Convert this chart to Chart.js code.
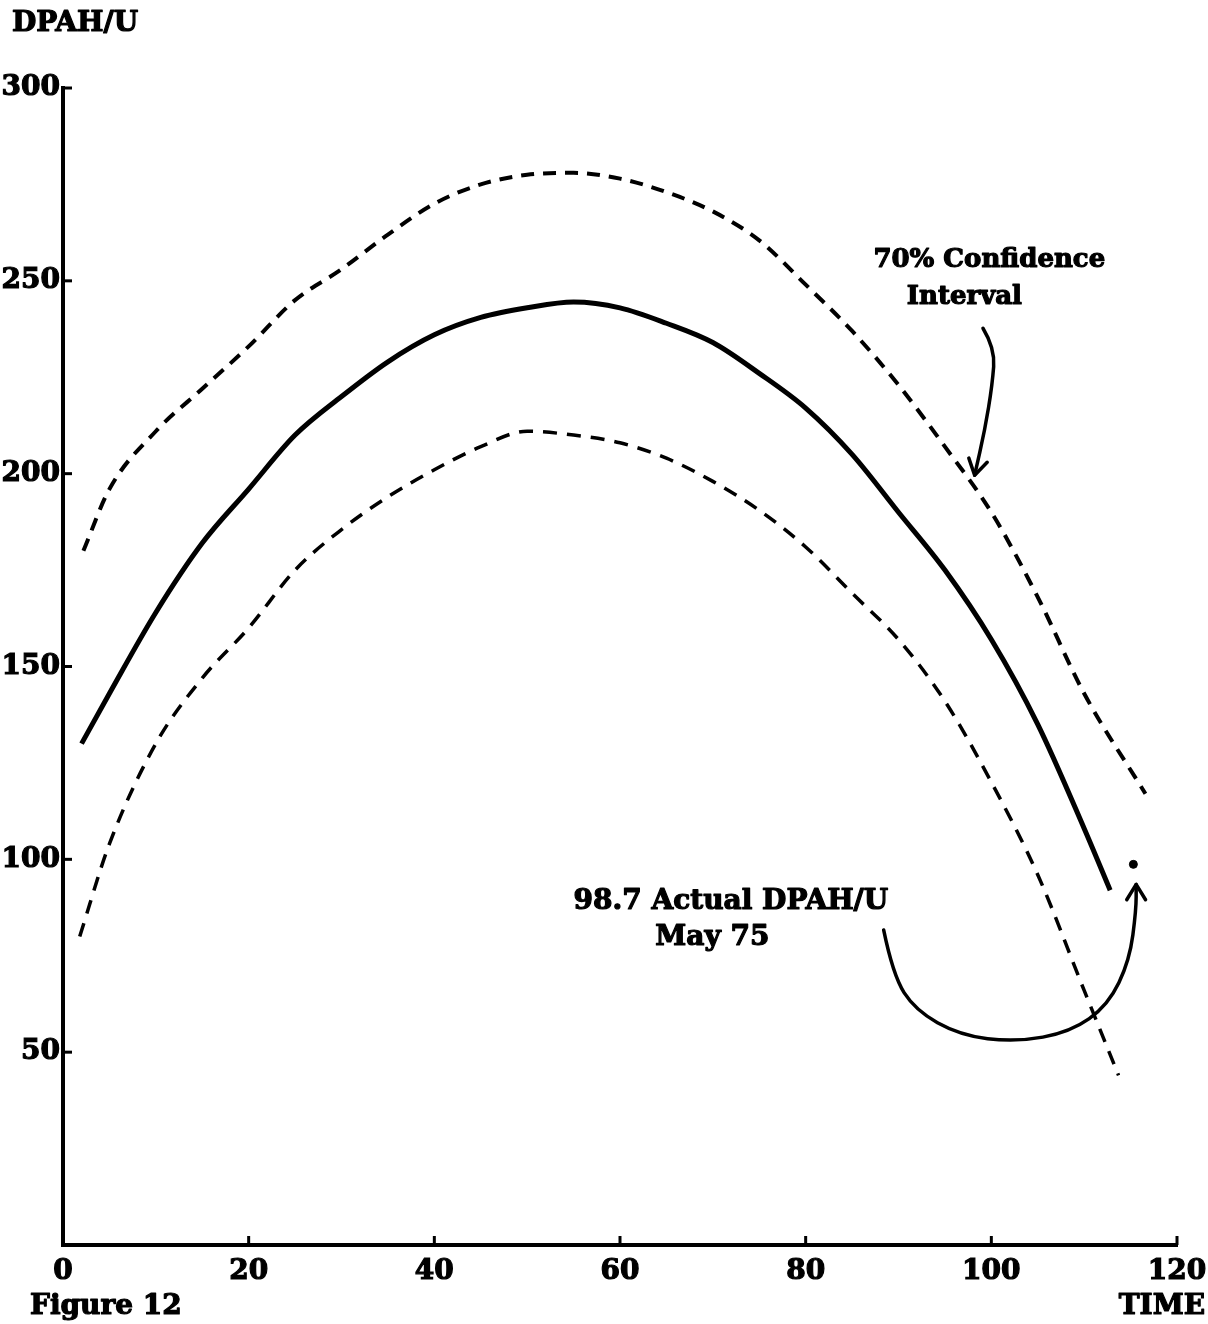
<!DOCTYPE html>
<html>
<head>
<meta charset="utf-8">
<title>DPAH/U over time</title>
<script src="https://cdn.jsdelivr.net/npm/chart.js@4.4.1/dist/chart.umd.min.js"></script>
<style>
  html, body { margin: 0; padding: 0; background: #fff; }
  #wrap { width: 1208px; height: 1324px; }
</style>
</head>
<body>
<div id="wrap"><canvas id="myChart" width="1208" height="1324"></canvas></div>
<script>
    // fitted curve and the 70% confidence band, DPAH/U by time
    const fitTime = [2, 5, 10, 15, 20, 25, 30, 35, 40, 45, 50, 55, 60, 65, 70, 75, 80, 85, 90, 95, 100, 105, 110, 112.8];
    const fitValues = [130, 143, 164, 182, 196, 210, 220, 229, 236, 240.5, 243, 244.5, 243, 239, 234, 226, 217, 205, 190, 175, 157, 135, 108, 92];

    const upperTime = [2.2, 5, 10, 15, 20, 25, 30, 35, 40, 45, 50, 55, 60, 65, 70, 75, 80, 85, 90, 95, 100, 105, 110, 116.6];
    const upperValues = [180, 196, 211, 222, 233, 245, 253, 262, 270, 275, 277.5, 278, 276.5, 273, 268, 260.5, 249, 237, 223, 207, 190, 168, 143, 117];

    const lowerTime = [1.8, 5, 10, 15, 20, 25, 30, 35, 40, 45, 50, 55, 60, 65, 70, 75, 80, 85, 90, 95, 100, 105, 110, 113.7];
    const lowerValues = [80, 104, 130, 147, 160, 175, 185.5, 194, 201, 207, 211, 210, 208, 204, 198, 190.5, 181, 169, 157, 141, 120, 96, 66, 44];

    // actual value for May 75
    const actualTime = [115.3];
    const actualValues = [98.7];

    const xTicks = [0, 20, 40, 60, 80, 100, 120];
    const yTicks = [0, 50, 100, 150, 200, 250, 300];

    const FAMILY = '"DejaVu Serif"';
    const toPoints = (xs, ys) => xs.map((x, i) => ({ x: x, y: ys[i] }));

    // heavy typewriter-ish text: fill plus a thin outline
    function heavyText(c, str, x, y) {
        c.fillText(str, x, y);
        c.strokeText(str, x, y);
    }

    // small ticks pointing into the plot, plus the hand-drawn notes and arrows
    const paperPlugin = {
        id: 'paper',
        afterDraw(chart) {
            const c = chart.ctx;
            const xs = chart.scales.x, ys = chart.scales.y;
            const area = chart.chartArea;
            const px = (t) => xs.getPixelForValue(t);
            const py = (v) => ys.getPixelForValue(v);

            c.save();
            c.strokeStyle = '#000';
            c.fillStyle = '#000';
            c.lineWidth = 3;
            yTicks.filter(v => v > 0).forEach(v => {
                c.beginPath();
                c.moveTo(area.left, py(v));
                c.lineTo(area.left + 9, py(v));
                c.stroke();
            });
            xTicks.filter(v => v > 0).forEach(v => {
                c.beginPath();
                c.moveTo(px(v), area.bottom);
                c.lineTo(px(v), area.bottom - 9);
                c.stroke();
            });

            // labels
            c.lineWidth = 1.2;
            c.lineJoin = 'round';
            c.font = 'bold 28px ' + FAMILY;
            c.textBaseline = 'middle';
            c.textAlign = 'left';
            heavyText(c, 'DPAH/U', 12, 24);
            heavyText(c, 'Figure 12', 30, 1307);
            c.textAlign = 'right';
            heavyText(c, 'TIME', 1205, 1307);
            c.textAlign = 'left';
            c.font = 'bold 26px ' + FAMILY;
            heavyText(c, '70% Confidence', px(87.3), py(255.4));
            heavyText(c, 'Interval', px(90.9), py(245.8));
            c.font = 'bold 28px ' + FAMILY;
            heavyText(c, '98.7 Actual DPAH/U', px(55.0), py(88.9));
            heavyText(c, 'May 75', px(63.8), py(79.6));

            // arrows, smoothed through a few guide points
            const arrow = (pts) => {
                const p = pts.map(d => [px(d[0]), py(d[1])]);
                c.lineWidth = 3.5;
                c.lineCap = 'round';
                c.beginPath();
                c.moveTo(p[0][0], p[0][1]);
                for (let i = 1; i < p.length - 1; i++) {
                    const mx = (p[i][0] + p[i + 1][0]) / 2, my = (p[i][1] + p[i + 1][1]) / 2;
                    c.quadraticCurveTo(p[i][0], p[i][1], mx, my);
                }
                const tip = p[p.length - 1], prev = p[p.length - 2];
                c.lineTo(tip[0], tip[1]);
                c.stroke();
                const a = Math.atan2(tip[1] - prev[1], tip[0] - prev[0]);
                c.beginPath();
                c.moveTo(tip[0] - 18 * Math.cos(a - 0.55), tip[1] - 18 * Math.sin(a - 0.55));
                c.lineTo(tip[0], tip[1]);
                c.lineTo(tip[0] - 18 * Math.cos(a + 0.55), tip[1] - 18 * Math.sin(a + 0.55));
                c.stroke();
            };
            arrow([[99.1, 237.7], [100.4, 232.5], [100.1, 223], [99.3, 211.3], [98.2, 199.6]]);
            arrow([[88.4, 81.7], [89.4, 70], [91.8, 60.9], [96.6, 54.4], [102.6, 52.6], [108.5, 55.2], [112.6, 62.2], [114.9, 73.9], [115.6, 87], [115.6, 93.5]]);
            c.restore();
        }
    };

    const tickFont = { family: 'DejaVu Serif', size: 28, weight: 'bold' };

    const ctx = document.getElementById('myChart').getContext('2d');

    const chart = new Chart(ctx, {
        type: 'scatter',
        data: {
            datasets: [
                {
                    label: 'Fitted',
                    data: toPoints(fitTime, fitValues),
                    showLine: true,
                    borderColor: '#000',
                    borderWidth: 5,
                    pointRadius: 0,
                    cubicInterpolationMode: 'monotone'
                },
                {
                    label: 'Upper 70%',
                    data: toPoints(upperTime, upperValues),
                    showLine: true,
                    borderColor: '#000',
                    borderWidth: 4,
                    borderDash: [13, 9],
                    pointRadius: 0,
                    cubicInterpolationMode: 'monotone'
                },
                {
                    label: 'Lower 70%',
                    data: toPoints(lowerTime, lowerValues),
                    showLine: true,
                    borderColor: '#000',
                    borderWidth: 3.5,
                    borderDash: [14, 10],
                    pointRadius: 0,
                    cubicInterpolationMode: 'monotone'
                },
                {
                    label: 'Actual',
                    data: toPoints(actualTime, actualValues),
                    pointRadius: 4,
                    backgroundColor: '#000',
                    borderColor: '#000'
                }
            ]
        },
        options: {
            responsive: false,
            animation: false,
            layout: { padding: { top: 88, right: 31, left: 0, bottom: 0 } },
            plugins: {
                legend: { display: false },
                tooltip: { enabled: false }
            },
            scales: {
                x: {
                    type: 'linear',
                    min: 0,
                    max: 120,
                    afterBuildTicks: (s) => { s.ticks = xTicks.map(v => ({ value: v })); },
                    afterFit: (s) => { s.height = 79; s.paddingLeft = 0; s.paddingRight = 0; },
                    grid: { display: false, drawTicks: false },
                    border: { display: true, color: '#000', width: 4 },
                    ticks: {
                        color: '#000',
                        font: tickFont,
                        textStrokeColor: '#000',
                        textStrokeWidth: 1.2,
                        padding: 10,
                        maxRotation: 0
                    }
                },
                y: {
                    min: 0,
                    max: 300,
                    afterBuildTicks: (s) => { s.ticks = yTicks.map(v => ({ value: v })); },
                    afterFit: (s) => { s.width = 63; s.paddingTop = 0; s.paddingBottom = 0; },
                    grid: { display: false, drawTicks: false },
                    border: { display: true, color: '#000', width: 4 },
                    ticks: {
                        color: '#000',
                        font: tickFont,
                        textStrokeColor: '#000',
                        textStrokeWidth: 1.2,
                        padding: 3,
                        callback: (v) => (v === 0 ? '' : v)
                    }
                }
            }
        },
        plugins: [paperPlugin]
    });
</script>
</body>
</html>
